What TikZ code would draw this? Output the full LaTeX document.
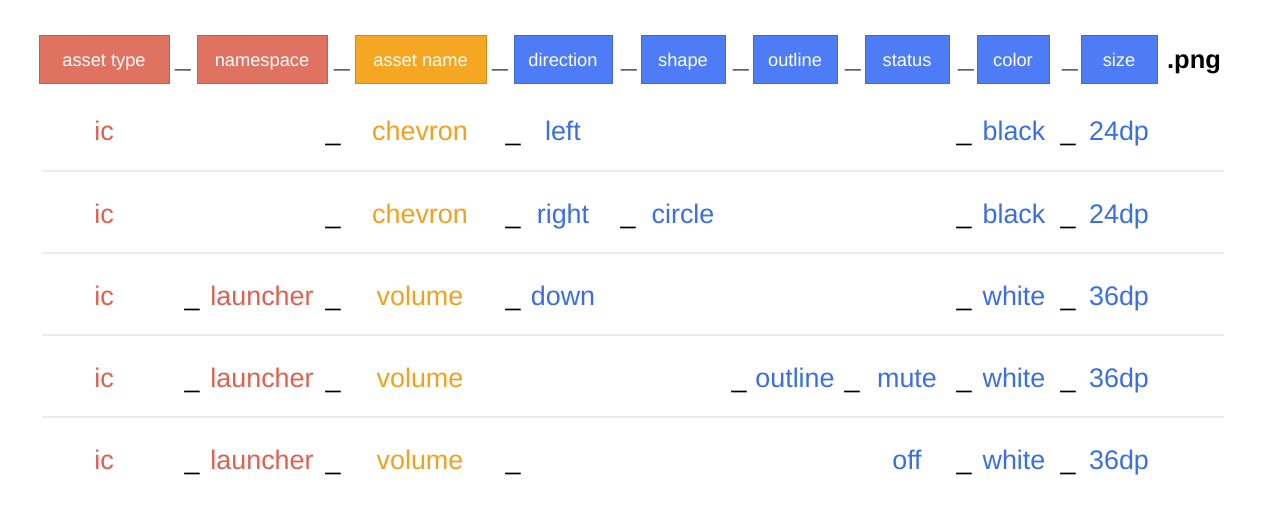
\documentclass[tikz,border=0pt]{standalone}
\usepackage{fontspec}
\setmainfont{Liberation Sans}
\usepackage{xcolor}
\usepackage{tikz}
\usetikzlibrary{positioning}

\definecolor{boxred}{HTML}{E07262}
\definecolor{boxorange}{HTML}{F5A623}
\definecolor{boxblue}{HTML}{4D7CF6}
\definecolor{txtred}{HTML}{E0604F}
\definecolor{txtorange}{HTML}{F5A01C}
\definecolor{txtblue}{HTML}{3A6EE8}
\definecolor{rule}{HTML}{ECECEC}

\tikzset{
	hdr/.style={draw=#1!85!black, line width=0.5pt, fill=#1, text=white, minimum height=0.96cm,
		inner sep=0pt, text height=10pt, text depth=2pt, font=\fontsize{10.4}{12}\selectfont},
	cell/.style={anchor=base, inner sep=0pt, text=#1, font=\fontsize{15.3}{18}\selectfont},
	sep/.style={anchor=base, inner sep=0pt, font=\fontsize{15.3}{18}\selectfont},
	hsep/.style={anchor=base, inner sep=0pt, font=\fontsize{14.5}{17}\selectfont\bfseries},
}

\begin{document}
\begin{tikzpicture}[x=0.02cm, y=-0.02cm]

	\useasboundingbox (0,0) rectangle (1280,524);

	% header: the parts of the file name
	\node[hdr=boxred, minimum width=2.60cm] (h-type) at (104,59) {asset type};
	\node[hdr=boxred, minimum width=2.60cm] (h-ns) at (262,59) {namespace};
	\node[hdr=boxorange, minimum width=2.62cm] (h-name) at (420.5,59) {asset name};
	\node[hdr=boxblue, minimum width=1.96cm] (h-dir) at (563,59) {direction};
	\node[hdr=boxblue, minimum width=1.68cm] (h-shape) at (683,59) {shape};
	\node[hdr=boxblue, minimum width=1.68cm] (h-outline) at (795,59) {outline};
	\node[hdr=boxblue, minimum width=1.68cm] (h-status) at (907,59) {status};
	\node[hdr=boxblue, minimum width=1.44cm] (h-color) at (1013,59) {color};
	\node[hdr=boxblue, minimum width=1.52cm] (h-size) at (1119,59) {size};
	\node[hsep] (h-png) at (1194,68) {.png};
	\foreach \x [count=\i] in {183,342,500,629,741,853,966,1070}
		\node[sep, font=\fontsize{16}{18}\selectfont\bfseries] (h-s\i) at (\x,67) {\_};

	% rules between the rows
	\foreach \y [count=\i] in {171,253,335,417}
		\draw[rule, line width=0.6pt] (42,\y) coordinate (l\i-a) -- (1224,\y) coordinate (l\i-b);

	% row 1
	\node[cell=txtred] (r1-type) at (104,140) {ic};
	\node[sep] (r1-s2) at (333,140) {\_};
	\node[cell=txtorange] (r1-name) at (420,140) {chevron};
	\node[sep] (r1-s3) at (513,140) {\_};
	\node[cell=txtblue] (r1-dir) at (563,140) {left};
	\node[sep] (r1-s8) at (964,140) {\_};
	\node[cell=txtblue] (r1-color) at (1014,140) {black};
	\node[sep] (r1-s9) at (1068,140) {\_};
	\node[cell=txtblue] (r1-size) at (1119,140) {24dp};

	% row 2
	\node[cell=txtred] (r2-type) at (104,223) {ic};
	\node[sep] (r2-s2) at (333,223) {\_};
	\node[cell=txtorange] (r2-name) at (420,223) {chevron};
	\node[sep] (r2-s3) at (513,223) {\_};
	\node[cell=txtblue] (r2-dir) at (563,223) {right};
	\node[sep] (r2-s4) at (628,223) {\_};
	\node[cell=txtblue] (r2-shape) at (683,223) {circle};
	\node[sep] (r2-s8) at (964,223) {\_};
	\node[cell=txtblue] (r2-color) at (1014,223) {black};
	\node[sep] (r2-s9) at (1068,223) {\_};
	\node[cell=txtblue] (r2-size) at (1119,223) {24dp};

	% row 3
	\node[cell=txtred] (r3-type) at (104,305) {ic};
	\node[sep] (r3-s1) at (192,305) {\_};
	\node[cell=txtred] (r3-ns) at (262,305) {launcher};
	\node[sep] (r3-s2) at (333,305) {\_};
	\node[cell=txtorange] (r3-name) at (420,305) {volume};
	\node[sep] (r3-s3) at (513,305) {\_};
	\node[cell=txtblue] (r3-dir) at (563,305) {down};
	\node[sep] (r3-s8) at (964,305) {\_};
	\node[cell=txtblue] (r3-color) at (1014,305) {white};
	\node[sep] (r3-s9) at (1068,305) {\_};
	\node[cell=txtblue] (r3-size) at (1119,305) {36dp};

	% row 4
	\node[cell=txtred] (r4-type) at (104,387) {ic};
	\node[sep] (r4-s1) at (192,387) {\_};
	\node[cell=txtred] (r4-ns) at (262,387) {launcher};
	\node[sep] (r4-s2) at (333,387) {\_};
	\node[cell=txtorange] (r4-name) at (420,387) {volume};
	\node[sep] (r4-s5) at (739,387) {\_};
	\node[cell=txtblue] (r4-outline) at (795,387) {outline};
	\node[sep] (r4-s6) at (852,387) {\_};
	\node[cell=txtblue] (r4-status) at (907,387) {mute};
	\node[sep] (r4-s8) at (964,387) {\_};
	\node[cell=txtblue] (r4-color) at (1014,387) {white};
	\node[sep] (r4-s9) at (1068,387) {\_};
	\node[cell=txtblue] (r4-size) at (1119,387) {36dp};

	% row 5
	\node[cell=txtred] (r5-type) at (104,469) {ic};
	\node[sep] (r5-s1) at (192,469) {\_};
	\node[cell=txtred] (r5-ns) at (262,469) {launcher};
	\node[sep] (r5-s2) at (333,469) {\_};
	\node[cell=txtorange] (r5-name) at (420,469) {volume};
	\node[sep] (r5-s3) at (513,469) {\_};
	\node[cell=txtblue] (r5-status) at (907,469) {off};
	\node[sep] (r5-s8) at (964,469) {\_};
	\node[cell=txtblue] (r5-color) at (1014,469) {white};
	\node[sep] (r5-s9) at (1068,469) {\_};
	\node[cell=txtblue] (r5-size) at (1119,469) {36dp};

\end{tikzpicture}
\end{document}
